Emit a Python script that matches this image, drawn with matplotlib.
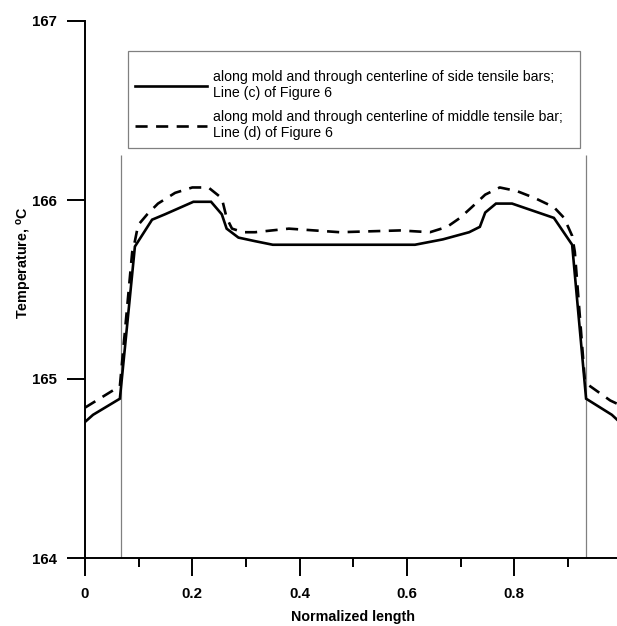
import matplotlib
matplotlib.use("Agg")
import matplotlib.pyplot as plt
from matplotlib.ticker import FixedLocator
from matplotlib.patches import Rectangle

plt.rcParams['font.family'] = ['Liberation Sans', 'DejaVu Sans']
plt.rcParams['mathtext.fontset'] = 'custom'
plt.rcParams['mathtext.rm'] = 'Liberation Sans'
plt.rcParams['mathtext.bf'] = 'Liberation Sans:bold'

# Solid: along mold, centerline of side tensile bars (Line c)
x_side = [0.0, 0.015, 0.065, 0.093, 0.125, 0.149, 0.202, 0.235, 0.255, 0.264,
          0.286, 0.317, 0.35, 0.45, 0.55, 0.615, 0.667, 0.716, 0.736, 0.746,
          0.766, 0.796, 0.874, 0.908, 0.934, 0.982, 1.0]
t_side = [164.76, 164.80, 164.89, 165.74, 165.89, 165.92, 165.99, 165.99, 165.92, 165.84,
          165.79, 165.77, 165.75, 165.75, 165.75, 165.75, 165.78, 165.82, 165.85, 165.93,
          165.98, 165.98, 165.90, 165.75, 164.89, 164.80, 164.75]

# Dashed: along mold, centerline of middle tensile bar (Line d)
x_mid = [0.0, 0.065, 0.088, 0.093, 0.099, 0.116, 0.136, 0.168, 0.200, 0.230,
         0.255, 0.264, 0.274, 0.295, 0.317, 0.38, 0.475, 0.587, 0.643, 0.675,
         0.699, 0.721, 0.746, 0.773, 0.805, 0.839, 0.874, 0.893, 0.908, 0.913,
         0.932, 0.979, 1.0]
t_mid = [164.84, 164.96, 165.71, 165.77, 165.86, 165.92, 165.98, 166.04, 166.07, 166.07,
         166.01, 165.90, 165.84, 165.82, 165.82, 165.84, 165.82, 165.83, 165.82, 165.85,
         165.90, 165.96, 166.03, 166.07, 166.05, 166.01, 165.96, 165.90, 165.80, 165.71,
         164.98, 164.88, 164.85]

bar_edges = [0.067, 0.933]
bar_top = 166.25

x_ticks = [0, 0.2, 0.4, 0.6, 0.8]
x_ticklabels = ['0', '0.2', '0.4', '0.6', '0.8']
x_minor = [0.1, 0.3, 0.5, 0.7, 0.9]
y_ticks = [164, 165, 166, 167]

label_side = 'along mold and through centerline of side tensile bars;\nLine (c) of Figure 6'
label_mid = 'along mold and through centerline of middle tensile bar;\nLine (d) of Figure 6'

W, H = 617, 626
fig = plt.figure(figsize=(W / 100, H / 100), dpi=100)
left = 85 / W
bottom = (H - 558) / H
width = 536.5 / W
height = (558 - 21) / H
ax = fig.add_axes([left, bottom, width, height])

ax.vlines(bar_edges, 164, bar_top, colors='#808080', linewidth=0.9, zorder=1)
ax.plot(x_side, t_side, color='black', linewidth=1.9, label=label_side,
        solid_joinstyle='miter', zorder=3)
ax.plot(x_mid, t_mid, color='black', linewidth=1.9, linestyle=(0, (4.6, 3.2)),
        label=label_mid, zorder=3)

ax.set_xlim(0, 1.0)
ax.set_ylim(164, 167)
for s in ['top', 'right']:
    ax.spines[s].set_visible(False)
for s in ['left', 'bottom']:
    ax.spines[s].set_linewidth(1.4)
ax.spines['bottom'].set_zorder(4)

ax.set_xticks(x_ticks)
ax.set_xticklabels(x_ticklabels)
ax.xaxis.set_minor_locator(FixedLocator(x_minor))
ax.set_yticks(y_ticks)
ax.set_yticklabels([str(v) for v in y_ticks])
ax.tick_params(axis='both', which='major', direction='out', length=13, width=1.4,
               labelsize=10.8, pad=7)
ax.tick_params(axis='x', which='minor', direction='out', length=6.5, width=1.4)
ax.tick_params(axis='x', which='major', pad=8)
for lab in ax.get_xticklabels() + ax.get_yticklabels():
    lab.set_fontweight('bold')

ax.set_xlabel('Normalized length', fontsize=10.3, fontweight='bold')
ax.set_ylabel(r'Temperature, $^{\mathbf{o}}$C', fontsize=10.3, fontweight='bold')
ax.yaxis.set_label_coords(-0.095, 0.55)
ax.xaxis.set_label_coords(0.5, -0.097)

# legend frame (as in the reference, wider than its content)
frame = Rectangle((128 / W, 1 - 148 / H), (580 - 128) / W, (148 - 51) / H,
                  transform=fig.transFigure, facecolor='white',
                  edgecolor='#808080', linewidth=0.9, zorder=5, clip_on=False)
ax.add_patch(frame)
leg = ax.legend(loc='upper left', bbox_to_anchor=(135 / W, 1 - 70 / H),
                bbox_transform=fig.transFigure, borderaxespad=0, borderpad=0,
                fontsize=10.2, frameon=False, handlelength=5.1, handletextpad=0.42,
                labelspacing=0.7)
leg.set_zorder(6)

fig.savefig('out.png', dpi=100)
